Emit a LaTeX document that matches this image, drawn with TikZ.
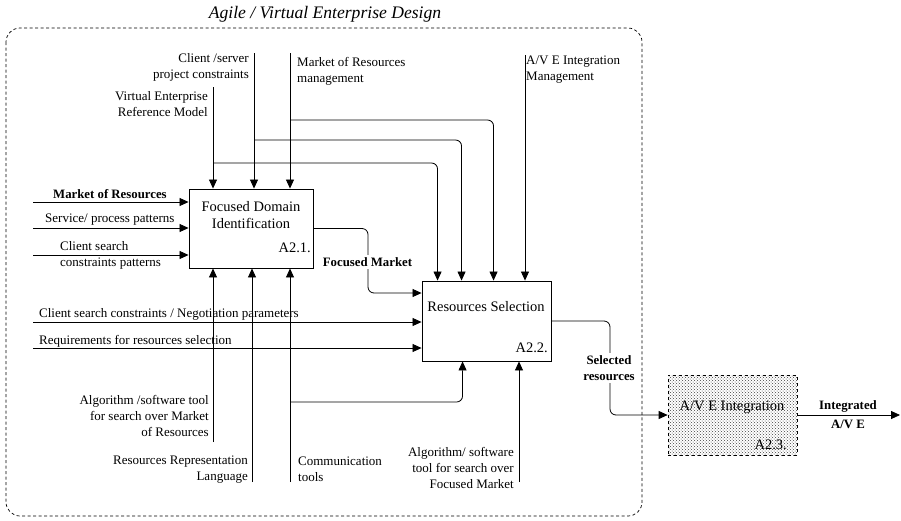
\documentclass[tikz,border=0pt]{standalone}
\usepackage{fontspec}
\setmainfont{Liberation Serif}
\usetikzlibrary{arrows.meta,patterns}
\begin{document}
\begin{tikzpicture}[x=1pt,y=-1pt,
  lbl/.style={font=\fontsize{13}{16}\selectfont, inner sep=0pt},
  blbl/.style={font=\fontsize{12.8}{16}\selectfont\bfseries, inner sep=0pt},
  boxtxt/.style={font=\fontsize{14.5}{17}\selectfont, inner sep=0pt, align=center},
  proc/.style={draw, line width=0.9pt, inner sep=0pt},
  wire/.style={line width=0.8pt, rounded corners=6pt},
  arr/.style={wire, -{Triangle[length=9pt,width=8pt]}},
]
\useasboundingbox (0,0) rectangle (901,520);

% enclosing activity frame
\draw[dash pattern=on 3pt off 2.5pt, line width=0.7pt, rounded corners=14pt]
  (6,28) rectangle (642,516);
\node[font=\fontsize{17.6}{20}\selectfont\itshape, inner sep=0pt] (title) at (325,14)
  {Agile / Virtual Enterprise Design};

% activity boxes
\node[proc, minimum width=124pt, minimum height=79pt] (A21) at (251,228.5) {};
\node[proc, minimum width=129pt, minimum height=80pt] (A22) at (486.5,321) {};
\node[draw, dashed, line width=0.7pt, pattern=crosshatch dots, pattern color=black!75,
      minimum width=129pt, minimum height=80pt, inner sep=0pt] (A23) at (732.5,415) {};

\node[boxtxt] (t21) at (251,215.5) {Focused Domain\\Identification};
\node[boxtxt, anchor=east] (n21) at (311,248) {A2.1.};
\node[boxtxt] (t22) at (486,307) {Resources Selection};
\node[boxtxt, anchor=east] (n22) at (548,348) {A2.2.};
\node[boxtxt] (t23) at (732,407) {A/V E Integration};
\node[boxtxt, anchor=east] (n23) at (787,445) {A2.3.};

% free ends of the connectors
\coordinate (cVE)  at (213,87);
\coordinate (cCS)  at (254,53);
\coordinate (cMR)  at (290,53);
\coordinate (cAV)  at (525,55);
\coordinate (jVE)  at (213,163);
\coordinate (jCS)  at (254,140);
\coordinate (jMR)  at (290,120);
\coordinate (iMR)  at (33,202);
\coordinate (iSP)  at (33,228);
\coordinate (iCL)  at (33,255);
\coordinate (iNP)  at (33,322);
\coordinate (iRQ)  at (33,348);
\coordinate (mAL)  at (213,442);
\coordinate (mRR)  at (252,482);
\coordinate (mCT)  at (290,482);
\coordinate (jCT)  at (290,402);
\coordinate (mFM)  at (519,482);
\coordinate (bFM)  at (368,293);
\coordinate (bSR)  at (610,415);
\coordinate (oAV)  at (900,415);

% controls
\draw[arr] (cVE) -- (cVE |- A21.north);
\draw[arr] (cCS) -- (cCS |- A21.north);
\draw[arr] (cMR) -- (cMR |- A21.north);
\draw[arr] (jVE) -| ([xshift=16pt]A22.north west);
\draw[arr] (jCS) -| ([xshift=40pt]A22.north west);
\draw[arr] (jMR) -| ([xshift=72pt]A22.north west);
\draw[arr] (cAV) -- (cAV |- A22.north);

% inputs
\draw[arr] (iMR) -- (A21.west |- iMR);
\draw[arr] (iSP) -- (A21.west |- iSP);
\draw[arr] (iCL) -- (A21.west |- iCL);
\draw[arr] (iNP) -- (A22.west |- iNP);
\draw[arr] (iRQ) -- (A22.west |- iRQ);

% mechanisms
\draw[arr] (mAL) -- (mAL |- A21.south);
\draw[arr] (mRR) -- (mRR |- A21.south);
\draw[arr] (mCT) -- (mCT |- A21.south);
\draw[arr] (jCT) -| ([xshift=41pt]A22.south west);
\draw[arr] (mFM) -- (mFM |- A22.south);

% outputs
\draw[arr] (A21.east) -| (bFM) -- (A22.west |- bFM);
\draw[arr] (A22.east) -| (bSR) -- (A23.west |- bSR);
\draw[arr] (A23.east) -- (oAV);

% labels
\node[lbl, align=right, anchor=east] (lVE) at (208,104.5) {Virtual Enterprise\\Reference Model};
\node[lbl, align=right, anchor=east] (lCS) at (249,67.5) {Client /server\\project constraints};
\node[lbl, align=left, anchor=west] (lMR) at (297,71) {Market of Resources\\management};
\node[lbl, align=left, anchor=west] (lAV) at (526,70) {A/V E Integration\\Management};

\node[blbl, anchor=west] (lIM) at (53,194) {Market of Resources};
\node[lbl, anchor=west] (lSP) at (45,220) {Service/ process patterns};
\node[lbl, align=left, anchor=west] (lCL) at (60,255) {Client search\\constraints patterns};
\node[lbl, anchor=west] (lNP) at (39,314) {Client search constraints / Negotiation parameters};
\node[lbl, anchor=west] (lRQ) at (39,341) {Requirements for resources selection};

\node[lbl, align=right, anchor=east] (lAL) at (209,415.5) {Algorithm /software tool\\for search over Market\\of Resources};
\node[lbl, align=right, anchor=east] (lRR) at (248,469.5) {Resources Representation\\Language};
\node[lbl, align=left, anchor=west] (lCT) at (298,469.5) {Communication\\tools};
\node[lbl, align=right, anchor=east] (lFT) at (514,468) {Algorithm/ software\\tool for search over\\Focused Market};

\node[blbl, fill=white, inner sep=2pt] (lFM) at (367.5,262) {Focused Market};
\node[blbl, fill=white, align=center, inner sep=2pt] (lSR) at (609,368) {Selected\\resources};
\node[blbl] (lIA) at (848,406) {Integrated};
\node[blbl] (lIB) at (848,424) {A/V E};
\end{tikzpicture}
\end{document}
